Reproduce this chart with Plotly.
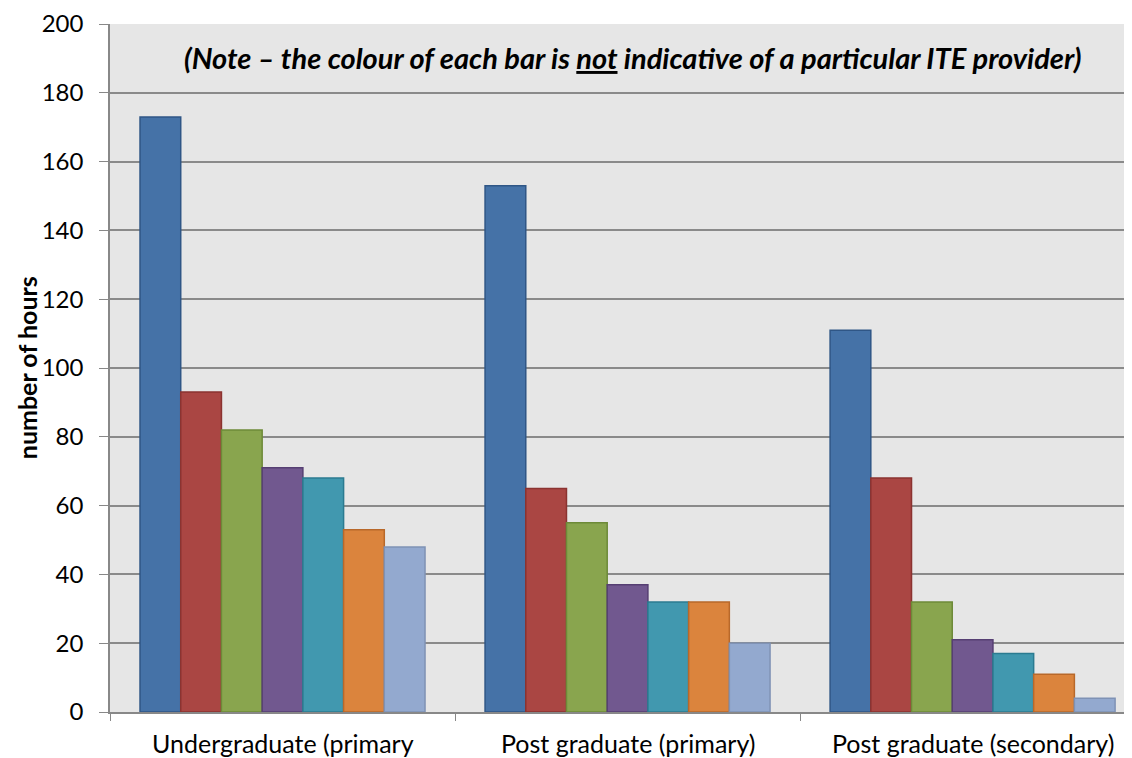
import plotly.graph_objects as go

categories = ["Undergraduate (primary", "Post graduate (primary)", "Post graduate (secondary)"]
providers = ["P1", "P2", "P3", "P4", "P5", "P6", "P7"]
values = [
    [173, 153, 111],
    [93, 65, 68],
    [82, 55, 32],
    [71, 37, 21],
    [68, 32, 17],
    [53, 32, 11],
    [48, 20, 4],
]
fills = ["#4572A7", "#AA4643", "#89A54E", "#71588F", "#4198AF", "#DB843D", "#93A9CF"]
borders = ["#2F5686", "#8B3330", "#6D8A38", "#563F73", "#2B7B91", "#B8682A", "#7F92B5"]
y_ticks = list(range(0, 201, 20))
note = "<b><i>(Note – the colour of each bar is <u>not</u> indicative of a particular ITE provider)</i></b>"
y_title = "<b>number of hours</b>"

FONT = "Lato, Carlito, sans-serif"

fig = go.Figure()
for name, vals, fc, bc in zip(providers, values, fills, borders):
    fig.add_trace(go.Bar(
        x=categories, y=vals, name=name,
        marker=dict(color=fc, line=dict(color=bc, width=1.5)),
        showlegend=False,
    ))

annotations = [dict(
    text=note, x=0.511, y=190.4, xref="paper", yref="y",
    xanchor="center", yanchor="middle",
    showarrow=False, font=dict(size=29, family=FONT, color="black"),
)]
annotations.append(dict(
    text=y_title, x=-0.081, y=0.5, xref="paper", yref="paper",
    xanchor="center", yanchor="middle", borderpad=0,
    textangle=-90, showarrow=False, font=dict(size=25, family=FONT, color="black"),
))
for cat in categories:
    annotations.append(dict(
        text=cat, x=cat, y=0, xref="x", yref="paper", yanchor="top",
        xanchor="center", yshift=-14, showarrow=False,
        font=dict(size=25, family=FONT, color="black"),
    ))

fig.update_layout(
    width=1124, height=750,
    margin=dict(l=102, r=0, t=16, b=46),
    paper_bgcolor="white",
    plot_bgcolor="#E6E6E6",
    barmode="group",
    bargap=0.174,
    bargroupgap=0,
    font=dict(family=FONT, color="black"),
    xaxis=dict(
        type="category",
        range=[-0.5, 2.462],
        tickson="boundaries",
        ticks="outside", ticklen=7, tickcolor="#888888", tickwidth=1.2,
        showgrid=False, showticklabels=False,
        showline=True, linecolor="#888888", linewidth=1.5,
        automargin=False,
    ),
    yaxis=dict(
        range=[0, 200],
        tickvals=y_ticks,
        ticks="outside", ticklen=9, tickcolor="#888888", tickwidth=1.2,
        showgrid=True, gridcolor="#8A8A8A", gridwidth=1.5,
        showline=True, linecolor="#888888", linewidth=1.5,
        tickfont=dict(size=24, family=FONT, color="black"),
        ticklabelstandoff=11,
        zeroline=False,
        automargin=False,
    ),
    annotations=annotations,
)

fig.write_html("out.html")
